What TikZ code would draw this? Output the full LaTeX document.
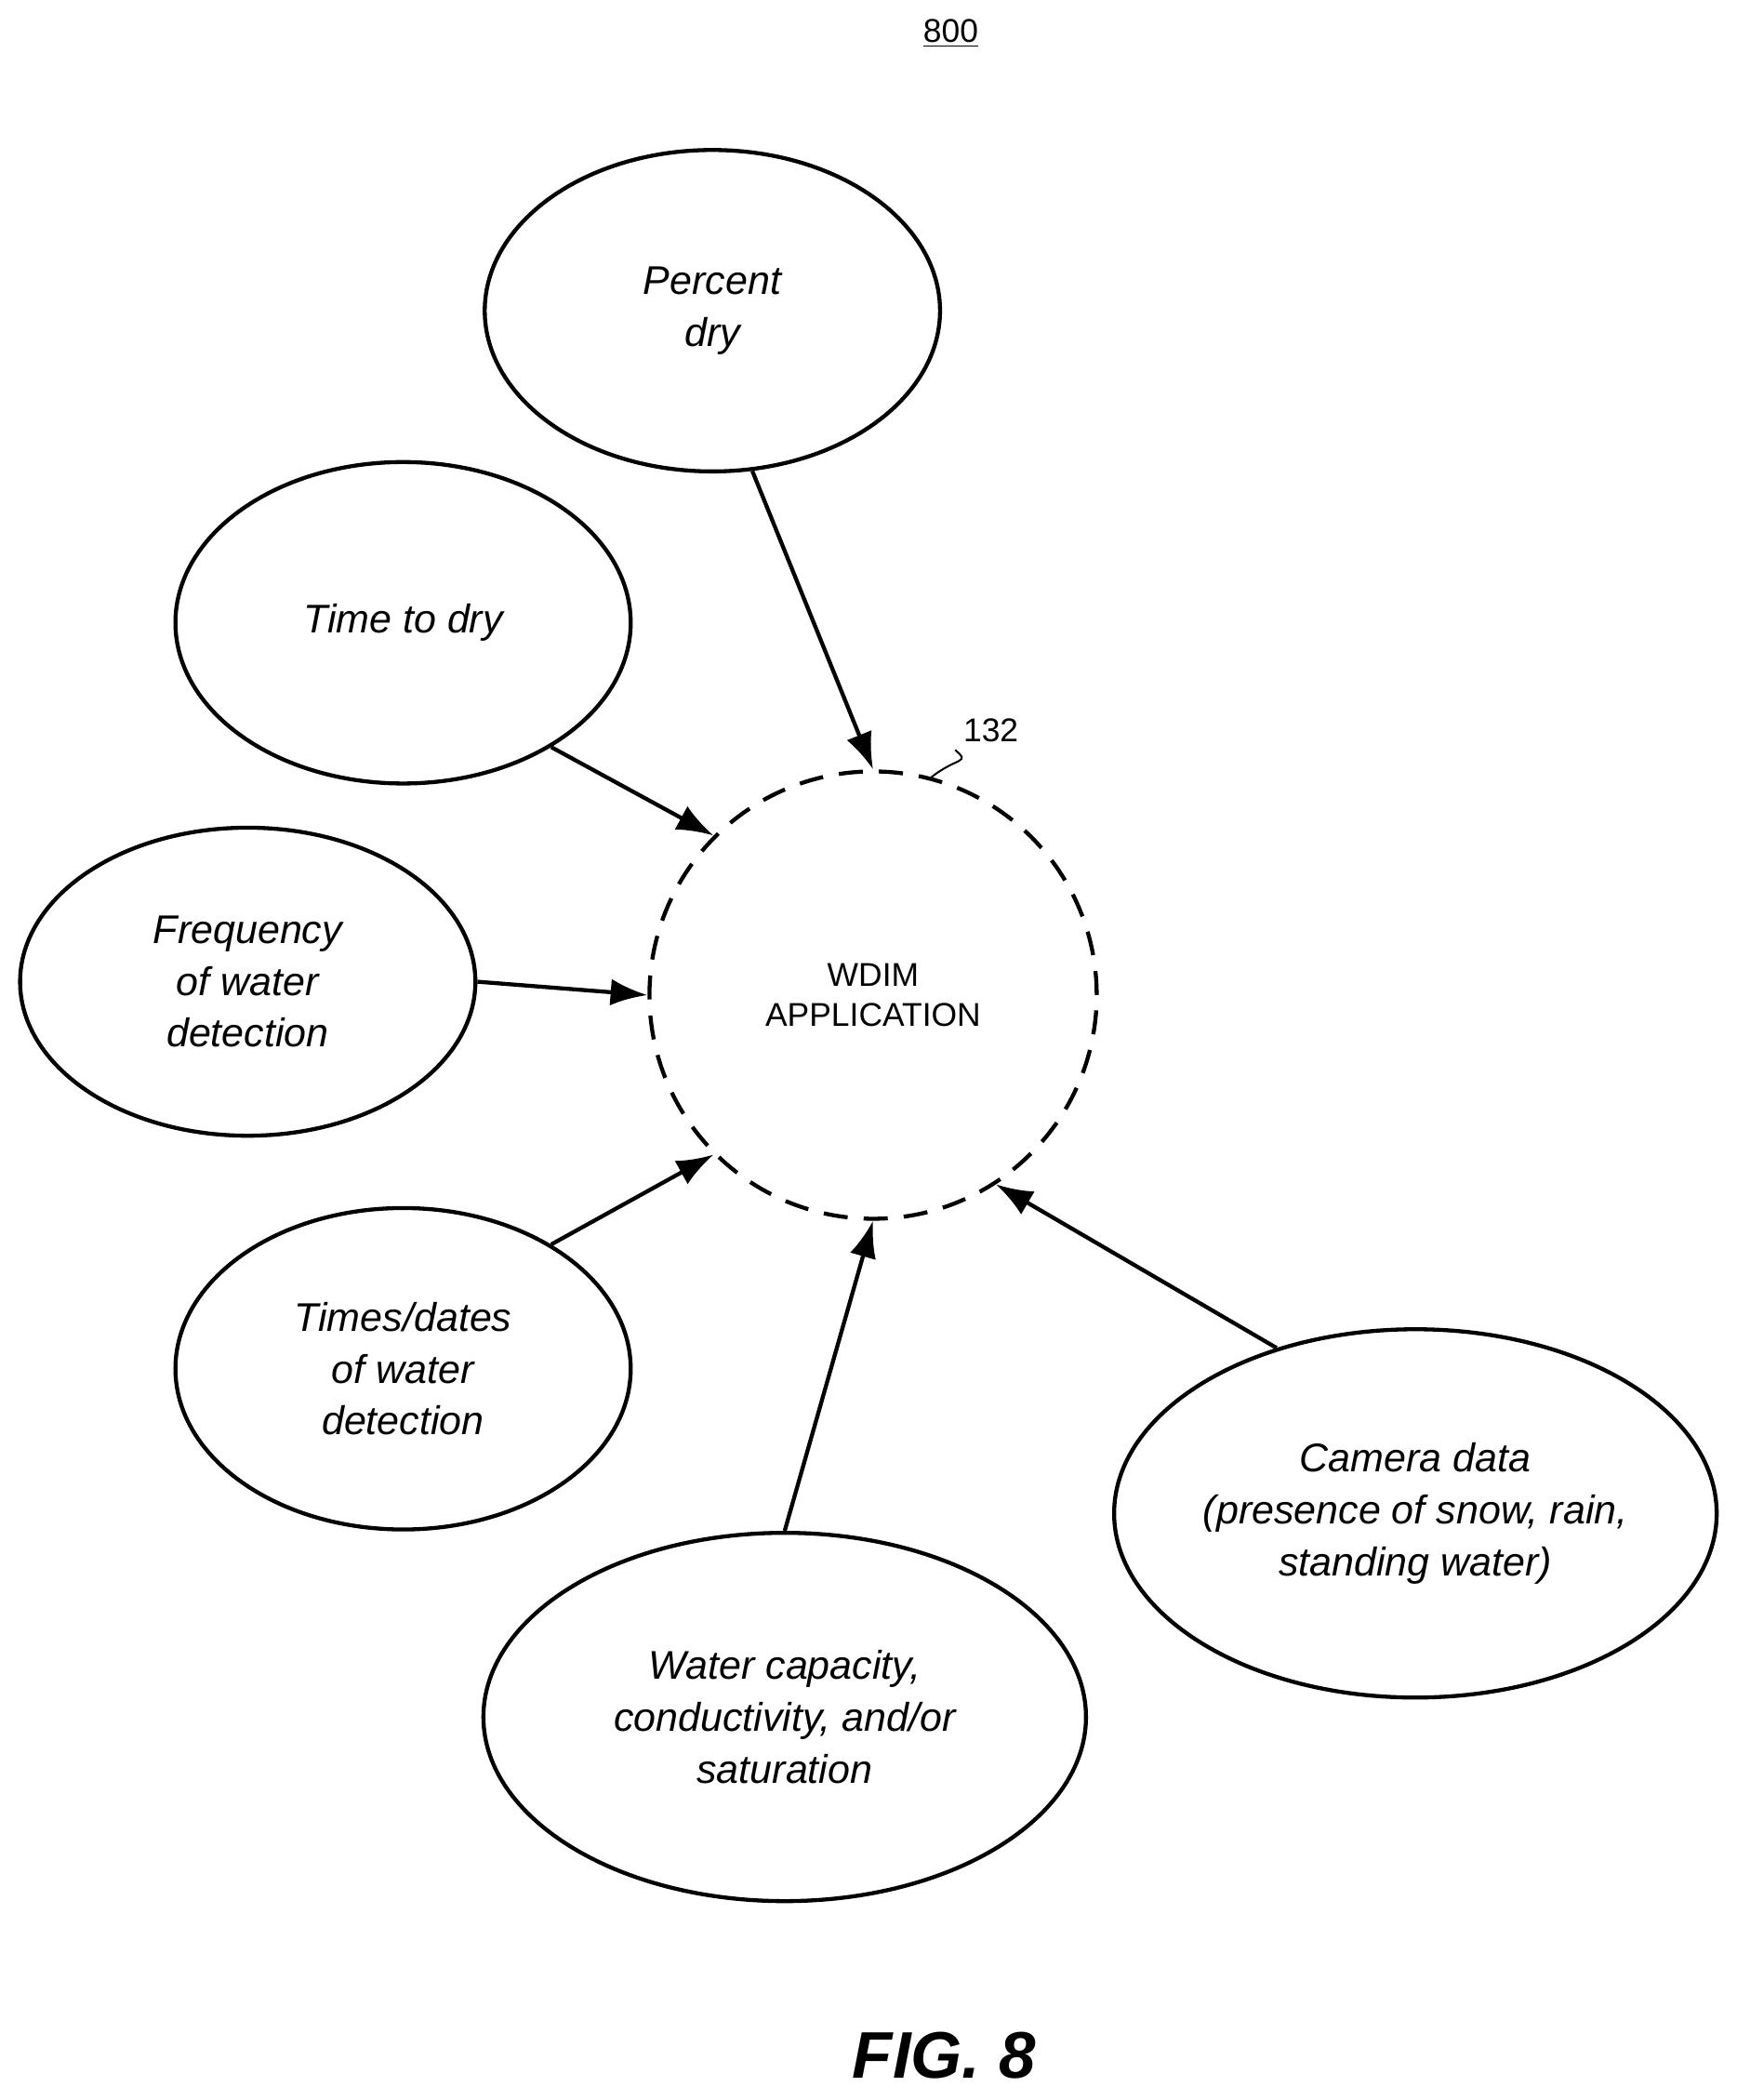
\documentclass[tikz,border=0pt]{standalone}
\usepackage{fontspec}
\setmainfont{Liberation Sans}
\usetikzlibrary{shapes.geometric,arrows.meta,decorations.pathmorphing}
\tikzset{
  input/.style={ellipse, draw=black, line width=1.7pt, inner sep=0pt, align=center,
    font=\itshape\fontsize{17}{22}\selectfont},
  feed/.style={line width=1.7pt, -{Latex[length=0.55cm,width=0.4cm]}},
}
\begin{document}
\begin{tikzpicture}
  \useasboundingbox (0,0) rectangle (25.94,-31.36);
  \node[font=\fontsize{14}{16}\selectfont] (num) at (14.2,-0.5) {\underline{800}};

  \node[circle, draw=black, line width=1.7pt, dash pattern=on 0.36cm off 0.24cm, minimum size=6.68cm, align=center,
    font=\fontsize{14}{17}\selectfont] (wdim) at (13.04,-14.86) {WDIM\\APPLICATION};

  \node[input, minimum width=6.8cm, minimum height=4.8cm] (pdry)  at (10.64,-4.64) {Percent\\dry};
  \node[input, minimum width=6.8cm, minimum height=4.8cm] (tdry)  at (6.02,-9.3)   {Time to dry};
  \node[input, minimum width=6.8cm, minimum height=4.6cm] (freq)  at (3.7,-14.66)  {Frequency\\of water\\detection};
  \node[input, minimum width=6.8cm, minimum height=4.8cm] (times) at (6.02,-20.44) {Times/dates\\of water\\detection};
  \node[input, minimum width=9cm, minimum height=5.5cm]   (wcap)  at (11.72,-25.64) {Water capacity,\\conductivity, and/or\\saturation};
  \node[input, minimum width=9cm, minimum height=5.5cm]   (cam)   at (21.14,-22.6)  {Camera data\\(presence of snow, rain,\\standing water)};

  \draw[feed] (pdry.-76) -- (wdim.north);
  \draw[feed] (tdry.-40) -- (wdim.135);
  \draw[feed] (freq.east) -- (wdim.west);
  \draw[feed] (times.40) -- (wdim.225);
  \draw[feed] (wcap.north) -- (wdim.south);
  \draw[feed] (cam.130) -- (wdim.-57);

  % reference numeral
  \node[font=\fontsize{14}{16}\selectfont] (ref) at (14.8,-10.9) {132};
  \draw[line width=0.8pt] (wdim.75) .. controls (14.3,-11.3) and (14.5,-11.4) .. (ref.south west);

  \node[font=\bfseries\itshape\fontsize{28}{32}\selectfont] (fig) at (14.1,-30.7) {FIG. 8};
\end{tikzpicture}
\end{document}
